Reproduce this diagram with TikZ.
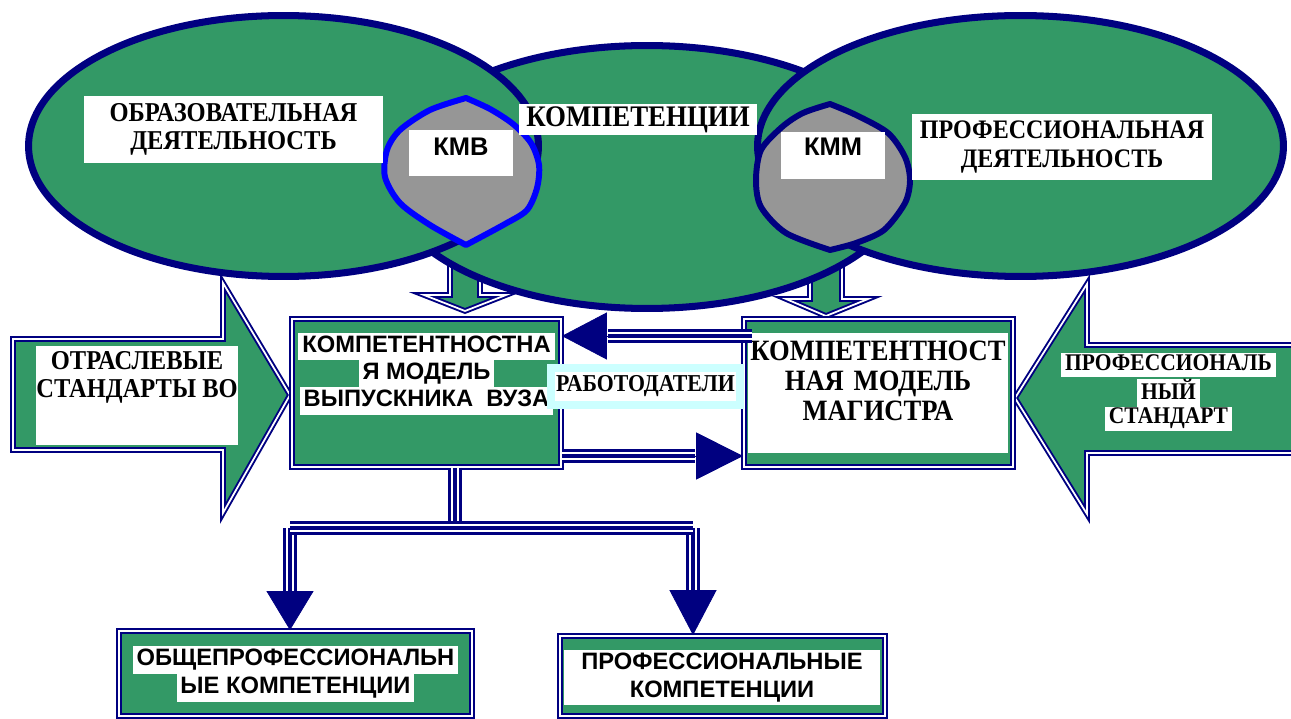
\documentclass[tikz,border=0pt]{standalone}
\usepackage{fontspec}
\setmainfont{Liberation Serif}
\newfontfamily\tnr[FakeStretch=0.9, BoldFont={Liberation Serif Bold}]{Liberation Serif}
\newfontfamily\arl[BoldFont={Liberation Sans Bold}]{Liberation Sans}
\usetikzlibrary{shapes.geometric, arrows.meta, positioning, calc}
\definecolor{green1}{RGB}{51,153,102}
\definecolor{navy1}{RGB}{0,0,128}
\definecolor{blue1}{RGB}{0,0,255}
\definecolor{gray1}{RGB}{150,150,150}
\definecolor{cyan1}{RGB}{204,255,255}
\setlength{\fboxsep}{0pt}
\newcommand{\setfs}[2]{\fontsize{#1}{#2}\selectfont}
\newcommand{\wl}[1]{\colorbox{white}{\strut\,#1\,}}

\begin{document}
\begin{tikzpicture}[x=0.02cm, y=-0.02cm,
  ell/.style={ellipse, draw=navy1, line width=4pt, fill=green1, inner sep=0pt},
  lens/.style={fill=gray1, line width=3.4pt, line join=round},
  blk/.style={fill=green1, draw=navy1, line width=1.1pt, double=white, double distance=1pt},
  boxframe/.style={rectangle, fill=green1, draw=navy1, line width=1pt, double=white, double distance=1.2pt, inner sep=0pt},
  triline/.style={draw=navy1, line width=7.7pt, postaction={draw=white, line width=5.1pt}, postaction={draw=navy1, line width=2.4pt}},
  hd/.style={navy1, -{Triangle[length=#1, width=0.94cm]}}, hd/.default=0.9cm,
  tnrlbl/.style={fill=white, inner sep=0pt, align=center},
  linelbl/.style={inner sep=0pt, align=center, anchor=north}]
  \useasboundingbox (0,0) rectangle (1291,719);
  \clip (0,0) rectangle (1291,719);

  \draw[blk] (450,230) -- (450,295) -- (424,295) -- (465,311) -- (506,295) -- (480,295) -- (480,230) -- cycle;
  \draw[blk] (810,230) -- (810,299) -- (786,299) -- (826,316) -- (868,299) -- (842,299) -- (842,230) -- cycle;
  \draw[blk] (13,339) -- (223,339) -- (223,283) -- (290,395) -- (223,513) -- (223,450) -- (13,450) -- cycle;
  \draw[blk] (1300,345) -- (1087,345) -- (1087,284) -- (1015,398) -- (1087,514) -- (1087,453) -- (1300,453) -- cycle;

  \node[ell, minimum width=10.46cm, minimum height=5.26cm] (komp) at (647,177) {};
  \node[ell, minimum width=10.2cm, minimum height=5.22cm] (obr) at (283.5,146) {};
  \node[ell, minimum width=10.52cm, minimum height=5.22cm] (prof) at (1020.5,146) {};

  \draw[lens, draw=blue1] plot[smooth] coordinates {(466,98) (490,109) (513,124) (531,143) (539,165) (537,188) (527,210) (505,224) (466,245)}
    -- plot[smooth] coordinates {(466,245) (430,225) (400,203) (385,177) (387,150) (400,130) (430,110) (466,98)} -- cycle;
  \draw[lens, draw=navy1] plot[smooth] coordinates {(830,104) (856,115) (888,133) (905,157) (910,180) (905,203) (884,230) (856,243) (830,250)}
    -- plot[smooth] coordinates {(830,250) (786,233) (761,207) (756,180) (761,150) (782,127) (803,113) (830,104)} -- cycle;

  \node[tnrlbl, font=\tnr\bfseries\setfs{15.5}{16}, minimum width=5.98cm, minimum height=1.34cm] (obrlbl) at (233.5,129.5) {ОБРАЗОВАТЕЛЬНАЯ\\ДЕЯТЕЛЬНОСТЬ};
  \node[tnrlbl, font=\tnr\bfseries\setfs{17}{20}, minimum width=4.76cm, minimum height=0.62cm] (komplbl) at (638,119.5) {КОМПЕТЕНЦИИ};
  \node[tnrlbl, font=\arl\bfseries\setfs{14.5}{16}, minimum width=2.08cm, text height=0.52cm, text depth=0.4cm] (kmv) at (461,153) {КМВ};
  \node[tnrlbl, font=\arl\bfseries\setfs{14.5}{16}, minimum width=2.08cm, text height=0.48cm, text depth=0.46cm] (kmm) at (833,155.5) {КММ};
  \node[tnrlbl, font=\tnr\bfseries\setfs{15.2}{16}, minimum width=6cm, minimum height=1.32cm] (proflbl) at (1062,147) {ПРОФЕССИОНАЛЬНАЯ\\ДЕЯТЕЛЬНОСТЬ};

  \node[fill=white, inner sep=0pt, minimum width=4.04cm, minimum height=1.98cm] (otrbg) at (137,395.5) {};
  \node[linelbl, font=\tnr\bfseries\setfs{15.5}{16}] (otrtxt) at (137,351) {ОТРАСЛЕВЫЕ\\СТАНДАРТЫ ВО};
  \node[linelbl, font=\tnr\bfseries\setfs{13.6}{13.7}] (pstdtxt) at (1168.5,353) {\wl{ПРОФЕССИОНАЛЬ}\\\wl{НЫЙ}\\\wl{СТАНДАРТ}};

  \node[boxframe, minimum width=5.38cm, minimum height=2.96cm] (vyp) at (426.5,393) {};
  \node[boxframe, minimum width=5.38cm, minimum height=2.96cm] (mag) at (878.5,393) {};
  \node[linelbl, font=\arl\bfseries\setfs{13.5}{15.4}] (vyptxt) at (426.5,333) {\wl{КОМПЕТЕНТНОСТНА}\\\wl{Я МОДЕЛЬ}\\\wl{ВЫПУСКНИКА\ \ ВУЗА}};
  \node[tnrlbl, font=\tnr\bfseries\setfs{16.8}{17.1}, text width=5.2cm, text height=0.54cm, text depth=1.86cm] (magtxt) at (878,393) {КОМПЕТЕНТНОСТ\\НАЯ МОДЕЛЬ\\МАГИСТРА};

  \coordinate (h1) at (608,336);
  \draw[triline] ($(mag.west |- h1)+(9,0)$) -- (h1);
  \draw[hd] (h1) -- (vyp.east |- h1);
  \coordinate (h2) at (695,456);
  \draw[triline] (vyp.east |- h2) -- (h2);
  \draw[hd=0.94cm] (h2) -- (mag.west |- h2);

  \node[fill=white, draw=cyan1, line width=4.55pt, minimum width=3.78cm, minimum height=0.74cm, inner sep=0pt, font=\tnr\bfseries\setfs{13.8}{14}] (rab) at (645.5,386.5) {РАБОТОДАТЕЛИ};

  \node[boxframe, minimum width=7.06cm, minimum height=1.7cm] (opk) at (295.5,673.5) {};
  \node[linelbl, font=\arl\bfseries\setfs{13.5}{15.8}] (opktxt) at (295.5,646) {\wl{ОБЩЕПРОФЕССИОНАЛЬН}\\\wl{ЫЕ КОМПЕТЕНЦИИ}};
  \node[boxframe, minimum width=6.5cm, minimum height=1.6cm] (pk) at (722.5,676) {};
  \node[tnrlbl, font=\arl\bfseries\setfs{13.5}{16}, minimum width=6.32cm, minimum height=1.1cm] (pktxt) at (722,677.5) {ПРОФЕССИОНАЛЬНЫЕ\\КОМПЕТЕНЦИИ};

  \coordinate (jn) at (455,528);
  \coordinate (jl) at (290,528);
  \coordinate (jr) at (693,528);
  \coordinate (h3) at (290,593);
  \coordinate (h4) at (693,590);
  \draw[triline] (vyp.south -| jn) -- (jn);
  \draw[triline] (jl) -- (h3);
  \draw[triline] (jr) -- (h4);
  \draw[triline] (jl) -- (jr);
  \draw[hd=0.78cm] (h3) -- (opk.north -| h3);
  \draw[hd] (h4) -- (pk.north -| h4);
\end{tikzpicture}
\end{document}
